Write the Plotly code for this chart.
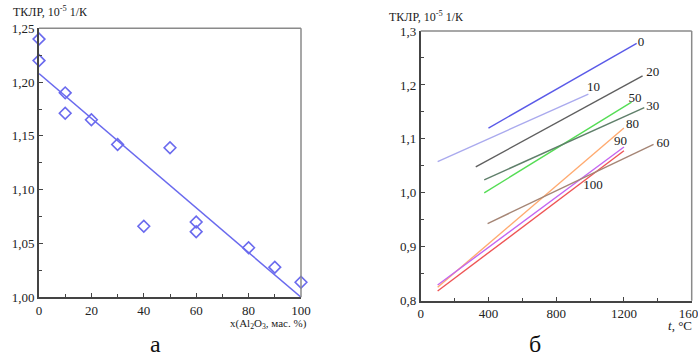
import plotly.graph_objects as go

# ---------- Panel a data ----------
a_x = [0, 0, 10, 10, 20, 30, 40, 50, 60, 60, 80, 90, 100]
a_y = [1.240, 1.220, 1.190, 1.171, 1.165, 1.142, 1.066, 1.139, 1.070, 1.061, 1.046, 1.028, 1.014]
a_fit_x = [0, 100]
a_fit_y = [1.208, 1.000]
a_xticks = [0, 20, 40, 60, 80, 100]
a_xticktext = ["0", "20", "40", "60", "80", "100"]
a_yticks = [1.00, 1.05, 1.10, 1.15, 1.20, 1.25]
a_yticktext = ["1,00", "1,05", "1,10", "1,15", "1,20", "1,25"]

# ---------- Panel b data ----------
b_names = ["0", "10", "20", "50", "30", "80", "90", "100", "60"]
b_t = [[400, 1275], [100, 990], [325, 1310], [375, 1245], [375, 1320],
       [100, 1200], [100, 1200], [100, 1200], [395, 1375]]
b_k = [[1.120, 1.277], [1.058, 1.183], [1.048, 1.217], [1.000, 1.168], [1.024, 1.158],
       [0.825, 1.120], [0.829, 1.085], [0.818, 1.078], [0.943, 1.090]]
b_colors = ["#5a5ae8", "#aaaaee", "#5f5f5f", "#55dd55", "#5f7f6a",
            "#ffaa70", "#c466f0", "#ee5555", "#a58575"]
b_label_t = [1300, 1020, 1370, 1265, 1370, 1250, 1180, 1017, 1430]
b_label_k = [1.278, 1.195, 1.222, 1.174, 1.160, 1.126, 1.094, 1.013, 1.091]
b_xticks = [0, 400, 800, 1200, 1600]
b_xticktext = ["0", "400", "800", "1200", "1600"]
b_yticks = [0.8, 0.9, 1.0, 1.1, 1.2, 1.3]
b_yticktext = ["0,8", "0,9", "1,0", "1,1", "1,2", "1,3"]

FONT = "Liberation Serif, DejaVu Serif, serif"
AX = "#444444"
BORDER = "#8a8a8a"
W, H = 698, 358

fig = go.Figure()

fig.add_trace(go.Scatter(x=a_fit_x, y=a_fit_y, mode="lines",
                         line=dict(color="#6a6aee", width=1.5),
                         xaxis="x", yaxis="y", showlegend=False, cliponaxis=False))
fig.add_trace(go.Scatter(x=a_x, y=a_y, mode="markers",
                         marker=dict(symbol="diamond-open", size=9, color="#6a6aee",
                                     line=dict(width=1.6, color="#6a6aee")),
                         xaxis="x", yaxis="y", showlegend=False, cliponaxis=False))

for i, name in enumerate(b_names):
    fig.add_trace(go.Scatter(x=b_t[i], y=b_k[i], mode="lines",
                             line=dict(color=b_colors[i], width=1.4),
                             xaxis="x2", yaxis="y2", showlegend=False))
fig.add_trace(go.Scatter(x=b_label_t, y=b_label_k, mode="text", text=b_names,
                         textfont=dict(family=FONT, size=13, color="#222222"),
                         xaxis="x2", yaxis="y2", showlegend=False, cliponaxis=False))

a_dom_x = [39 / W, 301 / W]
a_dom_y = [1 - 297.3 / H, 1 - 28.3 / H]
b_dom_x = [420.7 / W, 691.7 / W]
b_dom_y = [1 - 300.7 / H, 1 - 31 / H]

tickfont = dict(family=FONT, size=13, color="#222222")
common = dict(showgrid=False, zeroline=False, showline=True, linecolor=AX, linewidth=1.8,
              ticks="inside", ticklen=4, tickcolor=AX, tickwidth=1.2, tickfont=tickfont,
              automargin=False, ticklabeloverflow="allow")

fig.update_layout(
    width=W, height=H, margin=dict(l=0, r=0, t=0, b=0),
    paper_bgcolor="white", plot_bgcolor="white",
    xaxis=dict(domain=a_dom_x, range=[0, 100], anchor="y", tickvals=a_xticks, ticktext=a_xticktext,
               minor=dict(ticks="inside", ticklen=3, tickcolor=AX, dtick=10), **common),
    yaxis=dict(domain=a_dom_y, range=[1.0, 1.25], anchor="x", tickvals=a_yticks, ticktext=a_yticktext,
               minor=dict(ticks="inside", ticklen=3, tickcolor=AX, dtick=0.025), **common),
    xaxis2=dict(domain=b_dom_x, range=[0, 1600], anchor="y2", tickvals=b_xticks, ticktext=b_xticktext,
                minor=dict(ticks="inside", ticklen=3, tickcolor=AX, dtick=200), **common),
    yaxis2=dict(domain=b_dom_y, range=[0.8, 1.3], anchor="x2", tickvals=b_yticks, ticktext=b_yticktext,
                minor=dict(ticks="inside", ticklen=3, tickcolor=AX, dtick=0.05), **common),
    shapes=[
        dict(type="line", xref="paper", yref="paper", x0=a_dom_x[0], x1=a_dom_x[1], y0=a_dom_y[1], y1=a_dom_y[1],
             line=dict(color=BORDER, width=1.5)),
        dict(type="line", xref="paper", yref="paper", x0=a_dom_x[1], x1=a_dom_x[1], y0=a_dom_y[0], y1=a_dom_y[1],
             line=dict(color=BORDER, width=1.5)),
        dict(type="line", xref="paper", yref="paper", x0=b_dom_x[0], x1=b_dom_x[1], y0=b_dom_y[1], y1=b_dom_y[1],
             line=dict(color=BORDER, width=1.5)),
        dict(type="line", xref="paper", yref="paper", x0=b_dom_x[1], x1=b_dom_x[1], y0=b_dom_y[0], y1=b_dom_y[1],
             line=dict(color=BORDER, width=1.5)),
    ],
    annotations=[
        dict(text="ТКЛР, 10<sup>-5</sup> 1/К", xref="paper", yref="paper", x=11 / W, y=1 - 12 / H,
             xanchor="left", yanchor="middle", showarrow=False, font=dict(family=FONT, size=12, color="#222222")),
        dict(text="ТКЛР, 10<sup>-5</sup> 1/К", xref="paper", yref="paper", x=387 / W, y=1 - 17 / H,
             xanchor="left", yanchor="middle", showarrow=False, font=dict(family=FONT, size=12, color="#222222")),
        dict(text="x(Al<sub>2</sub>O<sub>3</sub>, мас. %)", xref="paper", yref="paper", x=309 / W, y=1 - 324 / H,
             xanchor="right", yanchor="middle", showarrow=False, font=dict(family=FONT, size=11, color="#222222")),
        dict(text="<i>t</i>, °C", xref="paper", yref="paper", x=694 / W, y=1 - 325 / H,
             xanchor="right", yanchor="middle", showarrow=False, font=dict(family=FONT, size=13, color="#222222")),
        dict(text="а", xref="paper", yref="paper", x=155 / W, y=1 - 344 / H,
             xanchor="center", yanchor="middle", showarrow=False, font=dict(family=FONT, size=24, color="#111111")),
        dict(text="б", xref="paper", yref="paper", x=535 / W, y=1 - 344 / H,
             xanchor="center", yanchor="middle", showarrow=False, font=dict(family=FONT, size=24, color="#111111")),
    ],
)

fig.write_html("out.html", config={"displayModeBar": False},
               post_script="document.body.style.margin='0';document.body.style.overflow='hidden';")
